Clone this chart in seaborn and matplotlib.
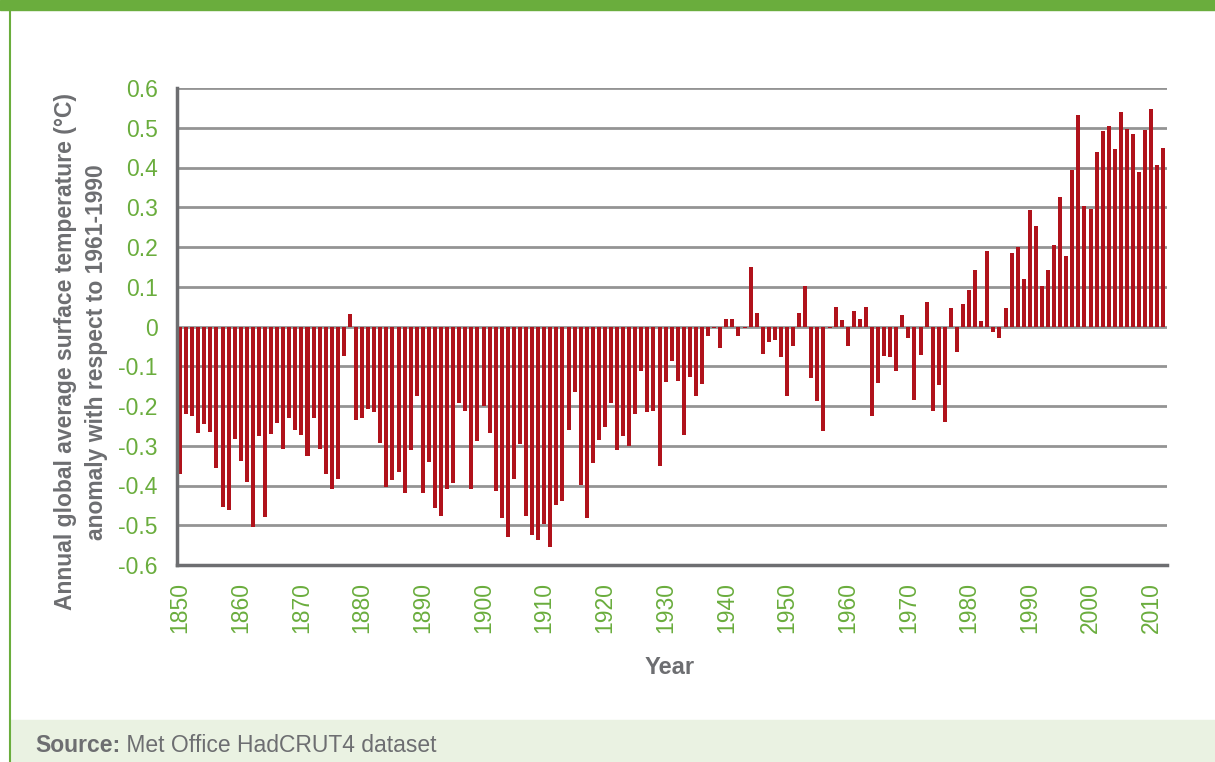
import matplotlib
matplotlib.use("Agg")
import matplotlib.pyplot as plt
import seaborn as sns
import pandas as pd
from matplotlib.patches import Rectangle
from matplotlib.lines import Line2D

# ---- data ----
years = list(range(1850, 2013))
anomalies = [
    -0.372, -0.219, -0.224, -0.267, -0.245, -0.265, -0.355, -0.454, -0.461, -0.282,  # 1850s
    -0.338, -0.391, -0.504, -0.275, -0.479, -0.270, -0.242, -0.308, -0.229, -0.260,  # 1860s
    -0.272, -0.325, -0.229, -0.308, -0.372, -0.408, -0.383, -0.073, 0.032, -0.234,   # 1870s
    -0.229, -0.207, -0.214, -0.292, -0.403, -0.386, -0.366, -0.418, -0.310, -0.174,  # 1880s
    -0.418, -0.340, -0.456, -0.476, -0.408, -0.393, -0.192, -0.212, -0.408, -0.287,  # 1890s
    -0.199, -0.267, -0.413, -0.482, -0.529, -0.383, -0.295, -0.476, -0.524, -0.537,  # 1900s
    -0.497, -0.555, -0.449, -0.439, -0.260, -0.164, -0.398, -0.482, -0.343, -0.285,  # 1910s
    -0.252, -0.192, -0.310, -0.275, -0.300, -0.219, -0.113, -0.214, -0.212, -0.350,  # 1920s
    -0.139, -0.088, -0.136, -0.272, -0.126, -0.176, -0.144, -0.025, -0.005, -0.055,  # 1930s
    0.019, 0.019, -0.023, -0.003, 0.150, 0.034, -0.068, -0.038, -0.035, -0.076,      # 1940s
    -0.174, -0.048, 0.034, 0.103, -0.129, -0.187, -0.262, -0.003, 0.050, 0.017,      # 1950s
    -0.050, 0.040, 0.019, 0.050, -0.224, -0.141, -0.073, -0.076, -0.113, 0.029,      # 1960s
    -0.030, -0.184, -0.071, 0.062, -0.212, -0.146, -0.240, 0.047, -0.063, 0.057,     # 1970s
    0.092, 0.143, 0.014, 0.191, -0.015, -0.030, 0.047, 0.186, 0.201, 0.120,          # 1980s
    0.292, 0.254, 0.103, 0.143, 0.204, 0.325, 0.178, 0.393, 0.532, 0.302,            # 1990s
    0.295, 0.439, 0.492, 0.504, 0.446, 0.540, 0.497, 0.484, 0.388, 0.494,            # 2000s
    0.547, 0.406, 0.449,                                                             # 2010s
]
x_tick_labels = [str(y) for y in range(1850, 2011, 10)]
y_ticks = [0.6, 0.5, 0.4, 0.3, 0.2, 0.1, 0.0, -0.1, -0.2, -0.3, -0.4, -0.5, -0.6]
y_tick_labels = ["0.6", "0.5", "0.4", "0.3", "0.2", "0.1", "0", "-0.1", "-0.2", "-0.3", "-0.4", "-0.5", "-0.6"]

ylabel_text = "Annual global average surface temperature (°C)\nanomaly with respect to 1961-1990"
xlabel_text = "Year"
source_bold = "Source:"
source_rest = " Met Office HadCRUT4 dataset"

# ---- style ----
sns.set_theme(style="white")
plt.rcParams["font.family"] = ["Liberation Sans", "DejaVu Sans"]

GREEN = "#6aad3d"
LIGHT_GREEN = "#eaf2e2"
GREY_TEXT = "#6d6e71"
BAR = "#b0121b"
GRID = "#949494"
FS = 16.5

W, H = 1215, 762
fig = plt.figure(figsize=(W / 100, H / 100), dpi=100)

ax = fig.add_axes([177 / W, 1 - 565 / H, (1167 - 177) / W, (565 - 88) / H])

df = pd.DataFrame({"year": years, "anomaly": anomalies})
sns.barplot(data=df, x="year", y="anomaly", color=BAR, saturation=1,
            width=0.66, linewidth=0, edgecolor=BAR, ax=ax)
for p in ax.patches:
    p.set_zorder(3)
    p.set_linewidth(0)

ax.set_xlim(-0.5, len(years) - 0.4)
ax.set_ylim(-0.6, 0.6)

# ticks
xt_pos = [years.index(int(s)) for s in x_tick_labels]
ax.set_xticks(xt_pos)
ax.set_xticklabels(x_tick_labels, rotation=90, color=GREEN, fontsize=FS)
ax.set_yticks(y_ticks)
ax.set_yticklabels(y_tick_labels, color=GREEN, fontsize=FS)
ax.tick_params(axis="x", length=0, pad=12)
ax.tick_params(axis="y", length=0, pad=14)

ax.yaxis.grid(True, color=GRID, lw=2, zorder=1)
ax.set_axisbelow(True)
ax.xaxis.grid(False)

for s in ["top", "right"]:
    ax.spines[s].set_visible(False)
for s in ["left", "bottom"]:
    ax.spines[s].set_color("#6d6e71")
    ax.spines[s].set_linewidth(2.5)
    ax.spines[s].set_zorder(4)

ax.set_xlabel("")
ax.set_ylabel("")

# labels
fig.text(81 / W, 1 - 352 / H, ylabel_text, rotation=90, ha="center", va="center",
         fontsize=FS, fontweight="bold", color=GREY_TEXT, linespacing=1.4)
fig.text(670 / W, 1 - 667 / H, xlabel_text, ha="center", va="center",
         fontsize=FS + 0.5, fontweight="bold", color=GREY_TEXT)

# frame decorations
fig.patches.append(Rectangle((0, 1 - 10 / H), 1, 10 / H, transform=fig.transFigure,
                             color=GREEN, zorder=0))
fig.patches.append(Rectangle((10 / W, 0), 1 - 10 / W, 42 / H, transform=fig.transFigure,
                             color=LIGHT_GREEN, zorder=0))
fig.lines.append(Line2D([10 / W, 10 / W], [0, 1], transform=fig.transFigure,
                        color=GREEN, lw=1.5))

t1 = fig.text(35 / W, 1 - 745 / H, source_bold, ha="left", va="center",
              fontsize=FS, fontweight="bold", color=GREY_TEXT)
fig.canvas.draw()
bb = t1.get_window_extent()
fig.text(bb.x1 / W, 1 - 745 / H, source_rest, ha="left", va="center",
         fontsize=FS, color=GREY_TEXT)

fig.savefig("out.png", dpi=100)
